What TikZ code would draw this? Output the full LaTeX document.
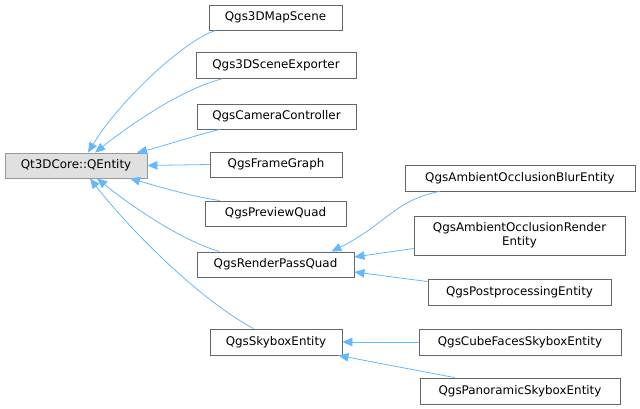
\documentclass[tikz,border=0pt]{standalone}
\usepackage{fontspec}
\setmainfont{DejaVu Sans}
\usetikzlibrary{arrows.meta,calc}
\definecolor{edgeblue}{HTML}{63B8FF}
\definecolor{boxgray}{HTML}{666666}
\definecolor{rootfill}{HTML}{E0E0E0}
\definecolor{rootdraw}{HTML}{999999}
\begin{document}
\begin{tikzpicture}[x=1pt,y=-1pt,
  cls/.style={draw=boxgray,fill=white,line width=0.9pt,inner sep=0pt,align=center,
    font=\fontsize{11.9}{14}\selectfont},
  root/.style={cls,draw=rootdraw,fill=rootfill},
  edge/.style={draw=edgeblue,line width=0.8pt,-{Triangle[length=10pt,width=8.5pt]}}]
\useasboundingbox (0,0) rectangle (640,409);
% nodes: center (x,y), width, height
\node[root,minimum width=142pt,minimum height=25pt] (qe) at (76,165.5) {Qt3DCore::QEntity};
\node[cls,minimum width=133pt,minimum height=25pt] (m3d) at (275.5,17.5) {Qgs3DMapScene};
\node[cls,minimum width=160pt,minimum height=26pt] (exp) at (276,65.5) {Qgs3DSceneExporter};
\node[cls,minimum width=159pt,minimum height=25pt] (cam) at (276.5,116.5) {QgsCameraController};
\node[cls,minimum width=132pt,minimum height=25pt] (fg) at (276,164.5) {QgsFrameGraph};
\node[cls,minimum width=141pt,minimum height=25pt] (pq) at (275.5,213.5) {QgsPreviewQuad};
\node[cls,minimum width=157pt,minimum height=25pt] (rpq) at (275.5,264.5) {QgsRenderPassQuad};
\node[cls,minimum width=132pt,minimum height=26pt] (sky) at (276,342) {QgsSkyboxEntity};
\node[cls,minimum width=230pt,minimum height=26pt] (blur) at (520,178) {QgsAmbientOcclusionBlurEntity};
\node[cls,minimum width=211pt,minimum height=39pt] (aor) at (519.5,235.5) {QgsAmbientOcclusionRender\\Entity};
\node[cls,minimum width=183pt,minimum height=26pt] (post) at (519.5,292) {QgsPostprocessingEntity};
\node[cls,minimum width=202pt,minimum height=26pt] (cube) at (520,342) {QgsCubeFacesSkyboxEntity};
\node[cls,minimum width=200pt,minimum height=26pt] (pano) at (520,391) {QgsPanoramicSkyboxEntity};
% edges to root
\draw[edge] ([xshift=7pt]m3d.south west) .. controls (185,40) and (120,100) .. ([xshift=12pt]qe.north);
\draw[edge] ([xshift=26pt]exp.south west) .. controls (180,90) and (130,125) .. ([xshift=19pt]qe.north);
\draw[edge] ([xshift=23pt]cam.south west) .. controls (190,137) and (160,147) .. ([xshift=61pt]qe.north);
\draw[edge] (fg.west) -- (qe.east);
\draw[edge] ([xshift=15pt]pq.north west) .. controls (190,196) and (160,187) .. ([xshift=54pt]qe.south);
\draw[edge] ([xshift=23pt]rpq.north west) .. controls (180,240) and (130,205) .. ([xshift=21pt]qe.south);
\draw[edge] ([xshift=44pt]sky.north west) .. controls (200,300) and (130,230) .. ([xshift=14pt]qe.south);
% edges to render pass quad
\draw[edge] ([xshift=35pt]blur.south west) .. controls (395,200) and (385,225) .. ([xshift=56pt]rpq.north);
\draw[edge] ([yshift=7pt]aor.south west) -- ([yshift=7.5pt]rpq.east);
\draw[edge] ([yshift=-3pt]post.north west) -- ([yshift=-7.5pt]rpq.east);
% edges to skybox
\draw[edge] (cube.west) -- (sky.east);
\draw[edge] ([xshift=35pt]pano.north west) -- ([xshift=-4pt]sky.south east);
\end{tikzpicture}
\end{document}
